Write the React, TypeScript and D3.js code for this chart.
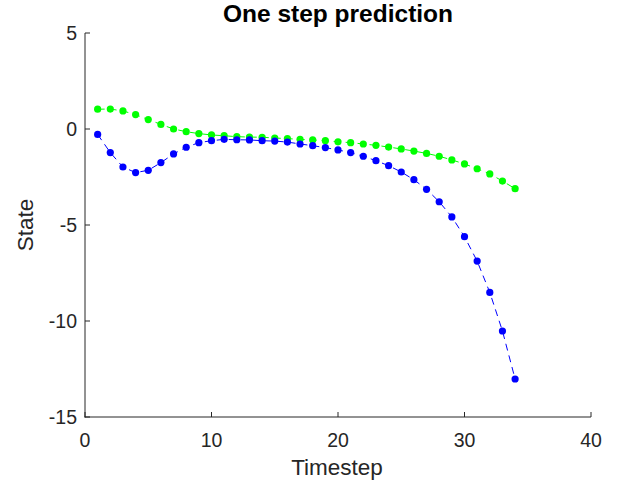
import React from "react";
import * as d3 from "d3";

const steps = d3.range(1, 35);
const predicted = [1.03, 1.04, 0.94, 0.75, 0.49, 0.24, 0.0, -0.14, -0.24, -0.31, -0.35, -0.4, -0.42, -0.43, -0.47, -0.5, -0.54, -0.57, -0.61, -0.67, -0.71, -0.78, -0.85, -0.94, -1.04, -1.15, -1.27, -1.42, -1.61, -1.82, -2.07, -2.34, -2.71, -3.11];
const actual = [-0.28, -1.23, -1.98, -2.27, -2.15, -1.75, -1.3, -0.95, -0.71, -0.61, -0.54, -0.56, -0.57, -0.61, -0.63, -0.68, -0.78, -0.87, -0.97, -1.09, -1.23, -1.42, -1.65, -1.91, -2.24, -2.64, -3.14, -3.79, -4.58, -5.61, -6.88, -8.51, -10.52, -13.02];
const xTicks = [0, 10, 20, 30, 40];
const yTicks = [5, 0, -5, -10, -15];

const W = 621, H = 487;
const left = 85, right = 591, top = 33, bottom = 417;
const axisColor = "#262626";
const font = "'Liberation Sans', Arial, Helvetica, sans-serif";

export default function App() {
  const x = d3.scaleLinear().domain([0, 40]).range([left, right]);
  const y = d3.scaleLinear().domain([-15, 5]).range([bottom, top]);
  const line = d3.line<number>().x((_, i) => x(steps[i])).y((d) => y(d));
  const series = [
    { data: predicted, color: "#00ff00" },
    { data: actual, color: "#0000ff" },
  ];
  return (
    <svg width={W} height={H} style={{ position: "absolute", left: 0, top: 0, background: "#fff" }}>
      <rect width={W} height={H} fill="#fff" />
      <text x={338} y={22} textAnchor="middle" fontFamily={font} fontWeight="bold" fontSize={24.5} fill="#000">One step prediction</text>
      {series.map((s, k) => (
        <g key={k}>
          <path d={line(s.data) || ""} fill="none" stroke={s.color} strokeWidth={1} strokeDasharray="7,5" />
          {s.data.map((v, i) => (
            <circle key={i} cx={x(steps[i])} cy={y(v)} r={3.6} fill={s.color} />
          ))}
        </g>
      ))}
      <g stroke={axisColor} strokeWidth={1} fill="none">
        <line x1={left} y1={top} x2={left} y2={bottom + 0.5} />
        <line x1={left - 0.5} y1={bottom} x2={right} y2={bottom} />
        {xTicks.map((t) => (
          <line key={"xt" + t} x1={x(t)} x2={x(t)} y1={bottom} y2={bottom - 5} />
        ))}
        {yTicks.map((t) => (
          <line key={"yt" + t} x1={left} x2={left + 5} y1={y(t)} y2={y(t)} />
        ))}
      </g>
      {xTicks.map((t) => (
        <text key={"xl" + t} x={x(t)} y={bottom + 30} textAnchor="middle" fontFamily={font} fontSize={19.5} fill={axisColor}>{t}</text>
      ))}
      {yTicks.map((t) => (
        <text key={"yl" + t} x={left - 8} y={y(t) + 7} textAnchor="end" fontFamily={font} fontSize={19.5} fill={axisColor}>{t}</text>
      ))}
      <text x={337} y={475} textAnchor="middle" fontFamily={font} fontSize={22.5} fill={axisColor}>Timestep</text>
      <text transform={`translate(33,225) rotate(-90)`} textAnchor="middle" fontFamily={font} fontSize={22.5} fill={axisColor}>State</text>
    </svg>
  );
}
